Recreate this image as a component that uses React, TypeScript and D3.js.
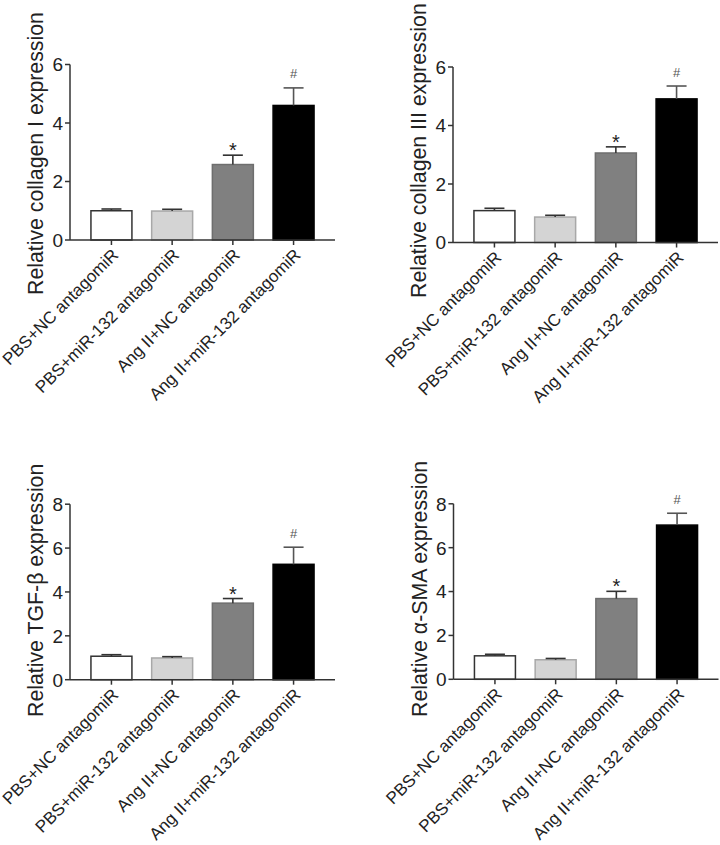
import React from "react";
import * as d3 from "d3";

const categories = [
  "PBS+NC antagomiR",
  "PBS+miR-132 antagomiR",
  "Ang II+NC antagomiR",
  "Ang II+miR-132 antagomiR",
];

const col1Mean = [1.0, 0.99, 2.58, 4.6];
const col1Err = [0.06, 0.06, 0.32, 0.6];
const col3Mean = [1.09, 0.87, 3.06, 4.91];
const col3Err = [0.08, 0.06, 0.21, 0.44];
const tgfMean = [1.07, 0.99, 3.49, 5.26];
const tgfErr = [0.07, 0.06, 0.21, 0.78];
const smaMean = [1.07, 0.89, 3.68, 7.03];
const smaErr = [0.07, 0.06, 0.33, 0.54];

const ticks6 = [0, 2, 4, 6];
const ticks8 = [0, 2, 4, 6, 8];

const marks = ["", "", "*", "#"];

const barFill = ["#ffffff", "#d4d4d4", "#808080", "#000000"];
const barStroke = ["#333333", "#a8a8a8", "#6e6e6e", "#000000"];

const FONT = "'Liberation Sans', Arial, Helvetica, sans-serif";

type PanelProps = {
  axisX: number;
  zeroY: number;
  title: string;
  means: number[];
  errs: number[];
  ticks: number[];
  labelStartY: number;
};

function Panel({ axisX, zeroY, title, means, errs, ticks, labelStartY }: PanelProps) {
  const width = 265;
  const height = 175.5;
  const yMax = ticks[ticks.length - 1];
  const y = d3.scaleLinear().domain([0, yMax]).range([zeroY, zeroY - height]);
  const x = d3
    .scaleBand<string>()
    .domain(categories)
    .range([axisX, axisX + width])
    .paddingInner(0.325)
    .paddingOuter(0.345)
    .align(0.5);
  const bw = x.bandwidth();
  const capW = 20;
  const axisColor = "#333";

  return (
    <g fontFamily={FONT}>
      {categories.map((c, i) => {
        const x0 = x(c) as number;
        const top = y(means[i]);
        return (
          <rect
            key={"b" + i}
            x={x0}
            y={top}
            width={bw}
            height={zeroY - top}
            fill={barFill[i]}
            stroke={barStroke[i]}
            strokeWidth={1.5}
          />
        );
      })}
      {categories.map((c, i) => {
        const cx = (x(c) as number) + bw / 2;
        const top = y(means[i]);
        const et = y(means[i] + errs[i]);
        return (
          <g key={"e" + i} stroke={i === 3 ? "#555" : "#333"} strokeWidth={1.6}>
            <line x1={cx} x2={cx} y1={top} y2={et} />
            <line x1={cx - capW / 2} x2={cx + capW / 2} y1={et} y2={et} />
          </g>
        );
      })}
      {categories.map((c, i) => {
        if (!marks[i]) return null;
        const cx = (x(c) as number) + bw / 2;
        const et = y(means[i] + errs[i]);
        if (marks[i] === "*") {
          return (
            <text key={"m" + i} x={cx} y={et + 2} textAnchor="middle" fontSize={20} fill="#222">
              *
            </text>
          );
        }
        return (
          <text key={"m" + i} x={cx} y={et - 9.5} textAnchor="middle" fontSize={13} fill="#555">
            #
          </text>
        );
      })}
      <line x1={axisX} x2={axisX} y1={y(yMax)} y2={zeroY} stroke={axisColor} strokeWidth={1.5} />
      {ticks.map((t) => (
        <g key={"t" + t}>
          <line x1={axisX - 5} x2={axisX} y1={y(t)} y2={y(t)} stroke={axisColor} strokeWidth={1.5} />
          <text x={axisX - 7} y={y(t)} dy="0.36em" textAnchor="end" fontSize={19} fill="#222">
            {t}
          </text>
        </g>
      ))}
      <line x1={axisX} x2={axisX + width} y1={zeroY} y2={zeroY} stroke={axisColor} strokeWidth={1.5} />
      {categories.map((c, i) => {
        const cx = (x(c) as number) + bw / 2;
        return (
          <g key={"x" + i}>
            <line x1={cx} x2={cx} y1={zeroY} y2={zeroY + 5} stroke={axisColor} strokeWidth={1.5} />
            <text
              transform={`translate(${cx + 8},${zeroY + 16}) rotate(-45)`}
              textAnchor="end"
              fontSize={17}
              fill="#222"
            >
              {c}
            </text>
          </g>
        );
      })}
      <text
        transform={`translate(${axisX - 27},${labelStartY}) rotate(-90)`}
        textAnchor="start"
        fontSize={21.3}
        fill="#222"
      >
        {title}
      </text>
    </g>
  );
}

export default function App() {
  return (
    <svg
      width={720}
      height={845}
      style={{ position: "absolute", left: 0, top: 0, background: "#fff" }}
    >
      <rect width={720} height={845} fill="#fff" />
      <Panel axisX={70} zeroY={240} title="Relative collagen I expression" means={col1Mean} errs={col1Err} ticks={ticks6} labelStartY={295} />
      <Panel axisX={453} zeroY={242.5} title="Relative collagen III expression" means={col3Mean} errs={col3Err} ticks={ticks6} labelStartY={298} />
      <Panel axisX={70} zeroY={679.7} title="Relative TGF-β expression" means={tgfMean} errs={tgfErr} ticks={ticks8} labelStartY={717} />
      <Panel axisX={453.5} zeroY={679.3} title="Relative α-SMA expression" means={smaMean} errs={smaErr} ticks={ticks8} labelStartY={717} />
    </svg>
  );
}
